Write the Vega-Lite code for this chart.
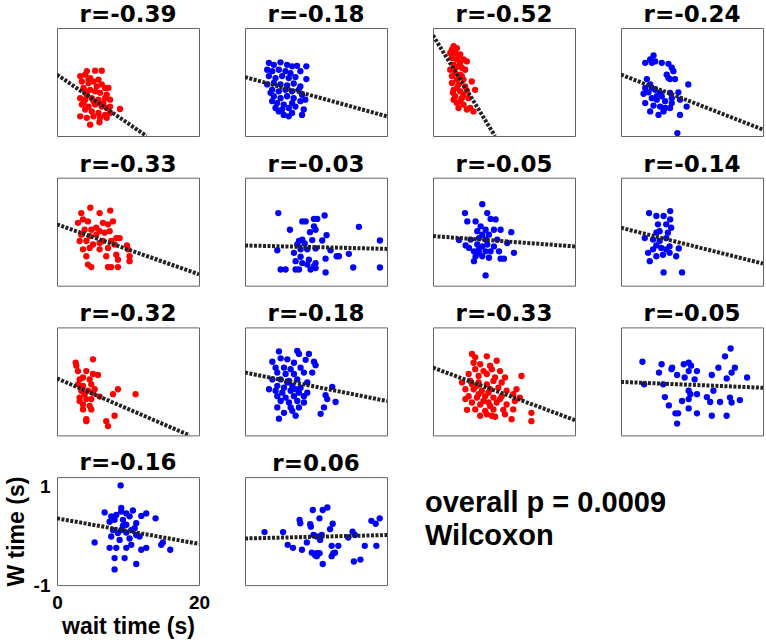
{
"$schema":"https://vega.github.io/schema/vega-lite/v6.json",
"background":"white",
"padding":{"left":4,"top":3,"right":0,"bottom":0},
"datasets":{
"pts":[
{"p":1,"x":4.2,"y":0.32},{"p":1,"x":5.37,"y":0.33},{"p":1,"x":6.3,"y":0.33},{"p":1,"x":3.27,"y":0.22},{"p":1,"x":3.97,"y":0.25},{"p":1,"x":4.67,"y":0.18},{"p":1,"x":3.5,"y":0.11},{"p":1,"x":4.44,"y":0.08},{"p":1,"x":5.14,"y":0.11},{"p":1,"x":5.84,"y":0.15},{"p":1,"x":6.77,"y":-0.02},{"p":1,"x":7.24,"y":-0.02},{"p":1,"x":6.3,"y":0.05},{"p":1,"x":3.74,"y":-0.02},{"p":1,"x":4.67,"y":-0.06},{"p":1,"x":5.37,"y":-0.09},{"p":1,"x":6.07,"y":-0.12},{"p":1,"x":4.2,"y":-0.16},{"p":1,"x":3.27,"y":-0.23},{"p":1,"x":3.97,"y":-0.26},{"p":1,"x":4.9,"y":-0.23},{"p":1,"x":5.84,"y":-0.26},{"p":1,"x":6.77,"y":-0.23},{"p":1,"x":7.47,"y":-0.26},{"p":1,"x":3.5,"y":-0.36},{"p":1,"x":4.44,"y":-0.4},{"p":1,"x":5.37,"y":-0.36},{"p":1,"x":6.3,"y":-0.4},{"p":1,"x":7.0,"y":-0.43},{"p":1,"x":8.87,"y":-0.45},{"p":1,"x":3.97,"y":-0.46},{"p":1,"x":4.9,"y":-0.5},{"p":1,"x":5.84,"y":-0.53},{"p":1,"x":6.77,"y":-0.57},{"p":1,"x":7.47,"y":-0.53},{"p":1,"x":3.27,"y":-0.6},{"p":1,"x":4.2,"y":-0.63},{"p":1,"x":5.14,"y":-0.6},{"p":1,"x":6.07,"y":-0.63},{"p":1,"x":7.0,"y":-0.63},{"p":1,"x":4.67,"y":-0.77},{"p":1,"x":5.98,"y":-0.72},{"p":1,"x":3.74,"y":-0.33},{"p":1,"x":5.14,"y":-0.29},{"p":1,"x":6.54,"y":-0.33},{"p":1,"x":4.44,"y":0.15},{"p":1,"x":5.6,"y":0.01},{"p":1,"x":7.47,"y":-0.4},{"p":1,"x":7.0,"y":-0.16},{"p":1,"x":3.97,"y":-0.09},
{"p":2,"x":3.36,"y":0.49},{"p":2,"x":4.06,"y":0.45},{"p":2,"x":5.0,"y":0.5},{"p":2,"x":5.93,"y":0.45},{"p":2,"x":6.63,"y":0.42},{"p":2,"x":7.33,"y":0.43},{"p":2,"x":8.64,"y":0.42},{"p":2,"x":3.13,"y":0.35},{"p":2,"x":3.83,"y":0.32},{"p":2,"x":4.76,"y":0.35},{"p":2,"x":5.7,"y":0.32},{"p":2,"x":6.4,"y":0.28},{"p":2,"x":7.8,"y":0.32},{"p":2,"x":3.36,"y":0.22},{"p":2,"x":4.3,"y":0.18},{"p":2,"x":5.23,"y":0.22},{"p":2,"x":6.16,"y":0.18},{"p":2,"x":7.1,"y":0.2},{"p":2,"x":8.64,"y":0.16},{"p":2,"x":3.13,"y":0.05},{"p":2,"x":4.06,"y":0.08},{"p":2,"x":5.0,"y":0.05},{"p":2,"x":5.93,"y":0.03},{"p":2,"x":6.86,"y":0.07},{"p":2,"x":7.8,"y":0.01},{"p":2,"x":3.83,"y":-0.06},{"p":2,"x":4.76,"y":-0.09},{"p":2,"x":5.7,"y":-0.06},{"p":2,"x":6.63,"y":-0.09},{"p":2,"x":7.57,"y":-0.06},{"p":2,"x":4.06,"y":-0.19},{"p":2,"x":5.0,"y":-0.23},{"p":2,"x":5.93,"y":-0.19},{"p":2,"x":6.86,"y":-0.23},{"p":2,"x":8.03,"y":-0.16},{"p":2,"x":3.83,"y":-0.29},{"p":2,"x":4.53,"y":-0.33},{"p":2,"x":5.46,"y":-0.36},{"p":2,"x":6.63,"y":-0.33},{"p":2,"x":7.8,"y":-0.29},{"p":2,"x":8.5,"y":-0.26},{"p":2,"x":4.3,"y":-0.43},{"p":2,"x":5.23,"y":-0.46},{"p":2,"x":6.16,"y":-0.43},{"p":2,"x":7.1,"y":-0.4},{"p":2,"x":5.46,"y":-0.57},{"p":2,"x":6.16,"y":-0.6},{"p":2,"x":8.03,"y":-0.57},{"p":2,"x":4.76,"y":-0.5},{"p":2,"x":6.63,"y":-0.53},{"p":2,"x":8.27,"y":-0.46},{"p":2,"x":3.6,"y":-0.12},
{"p":3,"x":2.9,"y":0.83},{"p":3,"x":2.66,"y":0.76},{"p":3,"x":3.36,"y":0.79},{"p":3,"x":3.13,"y":0.69},{"p":3,"x":3.83,"y":0.66},{"p":3,"x":4.3,"y":0.56},{"p":3,"x":4.76,"y":0.52},{"p":3,"x":2.66,"y":0.59},{"p":3,"x":3.36,"y":0.56},{"p":3,"x":2.9,"y":0.45},{"p":3,"x":3.6,"y":0.42},{"p":3,"x":4.06,"y":0.39},{"p":3,"x":4.53,"y":0.35},{"p":3,"x":2.43,"y":0.35},{"p":3,"x":3.13,"y":0.28},{"p":3,"x":3.83,"y":0.25},{"p":3,"x":3.36,"y":0.15},{"p":3,"x":4.3,"y":0.15},{"p":3,"x":5.46,"y":0.11},{"p":3,"x":2.66,"y":0.08},{"p":3,"x":3.6,"y":0.05},{"p":3,"x":4.53,"y":0.01},{"p":3,"x":2.9,"y":-0.06},{"p":3,"x":3.83,"y":-0.09},{"p":3,"x":4.76,"y":-0.07},{"p":3,"x":5.93,"y":-0.06},{"p":3,"x":3.13,"y":-0.19},{"p":3,"x":4.06,"y":-0.23},{"p":3,"x":5.0,"y":-0.23},{"p":3,"x":3.36,"y":-0.33},{"p":3,"x":4.3,"y":-0.36},{"p":3,"x":5.23,"y":-0.43},{"p":3,"x":5.7,"y":-0.5},{"p":3,"x":3.6,"y":-0.43},{"p":3,"x":4.76,"y":-0.46},{"p":3,"x":2.66,"y":0.22},{"p":3,"x":4.06,"y":0.22},{"p":3,"x":3.36,"y":-0.02},{"p":3,"x":4.3,"y":-0.16},{"p":3,"x":2.9,"y":-0.26},{"p":3,"x":2.43,"y":0.69},{"p":3,"x":3.6,"y":0.62},{"p":3,"x":3.13,"y":0.39},{"p":3,"x":3.83,"y":0.49},{"p":3,"x":2.8,"y":-0.12},{"p":3,"x":3.83,"y":-0.29},
{"p":4,"x":4.58,"y":0.64},{"p":4,"x":4.11,"y":0.56},{"p":4,"x":3.41,"y":0.49},{"p":4,"x":4.34,"y":0.49},{"p":4,"x":4.81,"y":0.52},{"p":4,"x":5.74,"y":0.49},{"p":4,"x":6.68,"y":0.47},{"p":4,"x":7.15,"y":0.39},{"p":4,"x":7.38,"y":0.32},{"p":4,"x":6.44,"y":0.25},{"p":4,"x":6.91,"y":0.16},{"p":4,"x":7.61,"y":0.16},{"p":4,"x":6.68,"y":0.18},{"p":4,"x":3.64,"y":0.16},{"p":4,"x":4.11,"y":0.05},{"p":4,"x":3.41,"y":-0.02},{"p":4,"x":4.34,"y":-0.02},{"p":4,"x":4.81,"y":-0.06},{"p":4,"x":3.88,"y":-0.11},{"p":4,"x":5.51,"y":-0.12},{"p":4,"x":6.91,"y":-0.12},{"p":4,"x":8.08,"y":-0.11},{"p":4,"x":9.48,"y":0.05},{"p":4,"x":3.18,"y":-0.14},{"p":4,"x":4.34,"y":-0.23},{"p":4,"x":5.04,"y":-0.26},{"p":4,"x":5.74,"y":-0.19},{"p":4,"x":7.15,"y":-0.23},{"p":4,"x":3.41,"y":-0.33},{"p":4,"x":4.58,"y":-0.38},{"p":4,"x":5.51,"y":-0.4},{"p":4,"x":6.21,"y":-0.43},{"p":4,"x":6.91,"y":-0.43},{"p":4,"x":8.31,"y":-0.26},{"p":4,"x":9.25,"y":-0.4},{"p":4,"x":4.11,"y":-0.5},{"p":4,"x":5.28,"y":-0.57},{"p":4,"x":5.98,"y":-0.5},{"p":4,"x":8.31,"y":-0.57},{"p":4,"x":7.94,"y":-0.94},{"p":4,"x":5.04,"y":-0.19},{"p":4,"x":6.21,"y":-0.29},{"p":4,"x":7.15,"y":-0.33},
{"p":5,"x":4.69,"y":0.59},{"p":5,"x":3.42,"y":0.48},{"p":5,"x":6.0,"y":0.48},{"p":5,"x":7.5,"y":0.53},{"p":5,"x":2.95,"y":0.28},{"p":5,"x":3.66,"y":0.35},{"p":5,"x":4.36,"y":0.31},{"p":5,"x":6.47,"y":0.28},{"p":5,"x":7.18,"y":0.25},{"p":5,"x":7.88,"y":0.31},{"p":5,"x":3.89,"y":0.14},{"p":5,"x":4.83,"y":0.14},{"p":5,"x":6.0,"y":0.11},{"p":5,"x":6.71,"y":0.08},{"p":5,"x":7.41,"y":0.11},{"p":5,"x":3.42,"y":0.04},{"p":5,"x":5.53,"y":0.04},{"p":5,"x":8.35,"y":-0.03},{"p":5,"x":8.82,"y":-0.03},{"p":5,"x":3.19,"y":-0.09},{"p":5,"x":4.13,"y":-0.09},{"p":5,"x":5.07,"y":-0.16},{"p":5,"x":6.47,"y":-0.09},{"p":5,"x":7.64,"y":-0.09},{"p":5,"x":3.66,"y":-0.26},{"p":5,"x":4.6,"y":-0.23},{"p":5,"x":6.0,"y":-0.26},{"p":5,"x":7.18,"y":-0.23},{"p":5,"x":9.85,"y":-0.18},{"p":5,"x":9.99,"y":-0.26},{"p":5,"x":4.13,"y":-0.4},{"p":5,"x":6.94,"y":-0.4},{"p":5,"x":8.35,"y":-0.37},{"p":5,"x":10.22,"y":-0.4},{"p":5,"x":8.58,"y":-0.47},{"p":5,"x":10.22,"y":-0.5},{"p":5,"x":4.36,"y":-0.57},{"p":5,"x":4.83,"y":-0.62},{"p":5,"x":7.18,"y":-0.62},{"p":5,"x":7.64,"y":-0.62},{"p":5,"x":8.58,"y":-0.62},{"p":5,"x":6.0,"y":-0.13},{"p":5,"x":5.53,"y":0.18},{"p":5,"x":4.6,"y":0.01},{"p":5,"x":8.11,"y":-0.16},
{"p":6,"x":4.69,"y":0.48},{"p":6,"x":6.33,"y":0.14},{"p":6,"x":8.07,"y":0.31},{"p":6,"x":8.54,"y":0.31},{"p":6,"x":9.71,"y":0.36},{"p":6,"x":10.18,"y":0.36},{"p":6,"x":11.21,"y":0.43},{"p":6,"x":9.71,"y":0.21},{"p":6,"x":9.15,"y":0.09},{"p":6,"x":9.94,"y":0.14},{"p":6,"x":11.49,"y":0.03},{"p":6,"x":16.04,"y":0.2},{"p":6,"x":19.0,"y":-0.08},{"p":6,"x":7.6,"y":-0.09},{"p":6,"x":8.07,"y":-0.06},{"p":6,"x":7.36,"y":-0.16},{"p":6,"x":8.4,"y":-0.14},{"p":6,"x":9.47,"y":-0.07},{"p":6,"x":10.88,"y":-0.08},{"p":6,"x":4.55,"y":-0.28},{"p":6,"x":6.89,"y":-0.33},{"p":6,"x":7.83,"y":-0.26},{"p":6,"x":8.77,"y":-0.26},{"p":6,"x":9.94,"y":-0.24},{"p":6,"x":12.05,"y":-0.28},{"p":6,"x":12.9,"y":-0.4},{"p":6,"x":13.23,"y":-0.4},{"p":6,"x":14.63,"y":-0.35},{"p":6,"x":7.83,"y":-0.41},{"p":6,"x":9.0,"y":-0.47},{"p":6,"x":7.13,"y":-0.5},{"p":6,"x":8.07,"y":-0.54},{"p":6,"x":8.77,"y":-0.57},{"p":6,"x":9.94,"y":-0.54},{"p":6,"x":11.35,"y":-0.45},{"p":6,"x":5.02,"y":-0.67},{"p":6,"x":5.72,"y":-0.67},{"p":6,"x":7.13,"y":-0.67},{"p":6,"x":7.6,"y":-0.67},{"p":6,"x":9.24,"y":-0.67},{"p":6,"x":9.94,"y":-0.64},{"p":6,"x":11.35,"y":-0.73},{"p":6,"x":15.24,"y":-0.63},{"p":6,"x":19.0,"y":-0.63},{"p":6,"x":9.71,"y":-0.6},
{"p":7,"x":6.94,"y":0.66},{"p":7,"x":4.5,"y":0.48},{"p":7,"x":7.64,"y":0.48},{"p":7,"x":4.83,"y":0.31},{"p":7,"x":6.0,"y":0.31},{"p":7,"x":8.11,"y":0.36},{"p":7,"x":8.82,"y":0.35},{"p":7,"x":6.71,"y":0.21},{"p":7,"x":7.41,"y":0.14},{"p":7,"x":6.24,"y":0.11},{"p":7,"x":8.58,"y":0.14},{"p":7,"x":9.52,"y":0.14},{"p":7,"x":11.02,"y":0.09},{"p":7,"x":6.94,"y":0.04},{"p":7,"x":7.88,"y":0.04},{"p":7,"x":3.66,"y":-0.07},{"p":7,"x":5.3,"y":-0.06},{"p":7,"x":6.47,"y":-0.03},{"p":7,"x":7.41,"y":-0.06},{"p":7,"x":9.05,"y":-0.06},{"p":7,"x":10.46,"y":-0.13},{"p":7,"x":4.6,"y":-0.18},{"p":7,"x":5.07,"y":-0.23},{"p":7,"x":6.24,"y":-0.16},{"p":7,"x":6.94,"y":-0.2},{"p":7,"x":7.64,"y":-0.16},{"p":7,"x":8.58,"y":-0.2},{"p":7,"x":5.77,"y":-0.3},{"p":7,"x":6.47,"y":-0.26},{"p":7,"x":7.41,"y":-0.3},{"p":7,"x":9.29,"y":-0.3},{"p":7,"x":11.4,"y":-0.33},{"p":7,"x":6.0,"y":-0.4},{"p":7,"x":6.94,"y":-0.4},{"p":7,"x":7.88,"y":-0.43},{"p":7,"x":9.52,"y":-0.45},{"p":7,"x":9.99,"y":-0.45},{"p":7,"x":5.77,"y":-0.5},{"p":7,"x":7.41,"y":-0.79},{"p":7,"x":6.47,"y":-0.33},{"p":7,"x":8.11,"y":-0.3},
{"p":8,"x":3.95,"y":0.48},{"p":8,"x":4.98,"y":0.42},{"p":8,"x":6.0,"y":0.42},{"p":8,"x":6.93,"y":0.52},{"p":8,"x":5.21,"y":0.25},{"p":8,"x":6.37,"y":0.25},{"p":8,"x":6.93,"y":0.35},{"p":8,"x":4.98,"y":0.08},{"p":8,"x":5.44,"y":0.11},{"p":8,"x":6.6,"y":0.08},{"p":8,"x":7.07,"y":0.18},{"p":8,"x":3.35,"y":-0.03},{"p":8,"x":4.51,"y":-0.06},{"p":8,"x":5.44,"y":-0.09},{"p":8,"x":6.37,"y":-0.03},{"p":8,"x":4.98,"y":-0.18},{"p":8,"x":5.67,"y":-0.23},{"p":8,"x":6.84,"y":-0.2},{"p":8,"x":8.14,"y":-0.24},{"p":8,"x":3.81,"y":-0.33},{"p":8,"x":4.98,"y":-0.4},{"p":8,"x":5.91,"y":-0.37},{"p":8,"x":6.84,"y":-0.33},{"p":8,"x":7.77,"y":-0.4},{"p":8,"x":4.05,"y":-0.5},{"p":8,"x":6.0,"y":-0.73},{"p":8,"x":8.6,"y":-0.73},{"p":8,"x":4.51,"y":-0.26},{"p":8,"x":6.37,"y":-0.26},
{"p":9,"x":2.63,"y":0.48},{"p":9,"x":2.72,"y":0.42},{"p":9,"x":5.07,"y":0.55},{"p":9,"x":2.95,"y":0.31},{"p":9,"x":4.13,"y":0.31},{"p":9,"x":5.07,"y":0.25},{"p":9,"x":5.77,"y":0.23},{"p":9,"x":3.19,"y":0.14},{"p":9,"x":3.66,"y":0.18},{"p":9,"x":4.6,"y":0.14},{"p":9,"x":2.95,"y":0.04},{"p":9,"x":3.66,"y":0.01},{"p":9,"x":4.83,"y":0.04},{"p":9,"x":3.42,"y":-0.09},{"p":9,"x":4.36,"y":-0.09},{"p":9,"x":5.07,"y":-0.13},{"p":9,"x":6.0,"y":-0.21},{"p":9,"x":7.88,"y":-0.16},{"p":9,"x":8.58,"y":-0.06},{"p":9,"x":11.07,"y":-0.16},{"p":9,"x":3.19,"y":-0.23},{"p":9,"x":4.13,"y":-0.26},{"p":9,"x":4.83,"y":-0.26},{"p":9,"x":3.66,"y":-0.37},{"p":9,"x":4.6,"y":-0.4},{"p":9,"x":3.66,"y":-0.47},{"p":9,"x":4.83,"y":-0.47},{"p":9,"x":8.11,"y":-0.6},{"p":9,"x":4.13,"y":-0.67},{"p":9,"x":4.13,"y":-0.71},{"p":9,"x":6.94,"y":-0.71},{"p":9,"x":7.18,"y":-0.81},{"p":9,"x":3.19,"y":-0.3},{"p":9,"x":5.3,"y":-0.06},{"p":9,"x":3.89,"y":-0.16},
{"p":10,"x":4.78,"y":0.71},{"p":10,"x":7.36,"y":0.72},{"p":10,"x":7.6,"y":0.66},{"p":10,"x":9.0,"y":0.66},{"p":10,"x":3.85,"y":0.5},{"p":10,"x":5.02,"y":0.57},{"p":10,"x":5.96,"y":0.55},{"p":10,"x":6.89,"y":0.48},{"p":10,"x":8.54,"y":0.54},{"p":10,"x":9.71,"y":0.5},{"p":10,"x":9.94,"y":0.43},{"p":10,"x":4.31,"y":0.38},{"p":10,"x":5.49,"y":0.38},{"p":10,"x":6.43,"y":0.35},{"p":10,"x":7.83,"y":0.38},{"p":10,"x":4.55,"y":0.28},{"p":10,"x":5.72,"y":0.25},{"p":10,"x":6.89,"y":0.25},{"p":10,"x":8.3,"y":0.28},{"p":10,"x":9.47,"y":0.28},{"p":10,"x":3.85,"y":0.14},{"p":10,"x":5.02,"y":0.14},{"p":10,"x":6.19,"y":0.11},{"p":10,"x":7.36,"y":0.14},{"p":10,"x":8.77,"y":0.08},{"p":10,"x":4.55,"y":0.01},{"p":10,"x":5.49,"y":-0.03},{"p":10,"x":6.66,"y":0.01},{"p":10,"x":7.83,"y":-0.03},{"p":10,"x":3.38,"y":-0.06},{"p":10,"x":4.31,"y":-0.09},{"p":10,"x":6.43,"y":-0.09},{"p":10,"x":7.6,"y":-0.13},{"p":10,"x":8.77,"y":-0.13},{"p":10,"x":12.29,"y":-0.01},{"p":10,"x":4.55,"y":-0.2},{"p":10,"x":5.72,"y":-0.23},{"p":10,"x":6.89,"y":-0.2},{"p":10,"x":8.3,"y":-0.2},{"p":10,"x":11.35,"y":-0.18},{"p":10,"x":5.02,"y":-0.3},{"p":10,"x":6.19,"y":-0.33},{"p":10,"x":7.36,"y":-0.3},{"p":10,"x":11.58,"y":-0.26},{"p":10,"x":12.76,"y":-0.32},{"p":10,"x":4.55,"y":-0.43},{"p":10,"x":6.43,"y":-0.43},{"p":10,"x":7.6,"y":-0.43},{"p":10,"x":11.12,"y":-0.43},{"p":10,"x":5.49,"y":-0.54},{"p":10,"x":7.13,"y":-0.6},{"p":10,"x":10.65,"y":-0.56},{"p":10,"x":4.78,"y":-0.66},{"p":10,"x":5.96,"y":0.08},{"p":10,"x":7.13,"y":-0.06},{"p":10,"x":8.3,"y":-0.33},{"p":10,"x":5.25,"y":-0.13},{"p":10,"x":6.66,"y":-0.5},
{"p":11,"x":5.49,"y":0.66},{"p":11,"x":5.95,"y":0.59},{"p":11,"x":7.58,"y":0.61},{"p":11,"x":5.72,"y":0.48},{"p":11,"x":6.65,"y":0.45},{"p":11,"x":8.97,"y":0.52},{"p":11,"x":8.04,"y":0.42},{"p":11,"x":5.95,"y":0.35},{"p":11,"x":7.11,"y":0.31},{"p":11,"x":8.28,"y":0.35},{"p":11,"x":9.44,"y":0.31},{"p":11,"x":5.02,"y":0.25},{"p":11,"x":6.42,"y":0.21},{"p":11,"x":7.58,"y":0.25},{"p":11,"x":8.74,"y":0.18},{"p":11,"x":10.14,"y":0.18},{"p":11,"x":12.46,"y":0.21},{"p":11,"x":4.09,"y":0.08},{"p":11,"x":5.25,"y":0.11},{"p":11,"x":6.42,"y":0.08},{"p":11,"x":7.58,"y":0.04},{"p":11,"x":8.51,"y":0.11},{"p":11,"x":9.67,"y":0.08},{"p":11,"x":4.56,"y":-0.06},{"p":11,"x":5.72,"y":-0.06},{"p":11,"x":6.88,"y":-0.09},{"p":11,"x":8.04,"y":-0.06},{"p":11,"x":9.21,"y":-0.03},{"p":11,"x":10.37,"y":-0.09},{"p":11,"x":11.76,"y":-0.06},{"p":11,"x":5.02,"y":-0.2},{"p":11,"x":6.18,"y":-0.23},{"p":11,"x":7.35,"y":-0.2},{"p":11,"x":8.51,"y":-0.23},{"p":11,"x":9.67,"y":-0.2},{"p":11,"x":11.3,"y":-0.16},{"p":11,"x":12.23,"y":-0.23},{"p":11,"x":5.49,"y":-0.33},{"p":11,"x":6.65,"y":-0.37},{"p":11,"x":7.81,"y":-0.33},{"p":11,"x":8.97,"y":-0.33},{"p":11,"x":10.37,"y":-0.37},{"p":11,"x":11.53,"y":-0.3},{"p":11,"x":4.79,"y":-0.48},{"p":11,"x":5.95,"y":-0.47},{"p":11,"x":7.35,"y":-0.5},{"p":11,"x":8.51,"y":-0.47},{"p":11,"x":9.9,"y":-0.48},{"p":11,"x":11.3,"y":-0.47},{"p":11,"x":8.28,"y":-0.6},{"p":11,"x":8.74,"y":-0.62},{"p":11,"x":10.14,"y":-0.57},{"p":11,"x":11.07,"y":-0.67},{"p":11,"x":13.86,"y":-0.54},{"p":11,"x":13.86,"y":-0.71},{"p":11,"x":6.65,"y":-0.6},{"p":11,"x":7.58,"y":-0.57},{"p":11,"x":5.49,"y":0.04},{"p":11,"x":4.56,"y":-0.26},{"p":11,"x":6.18,"y":0.01},{"p":11,"x":7.11,"y":-0.3},{"p":11,"x":8.04,"y":-0.4},{"p":11,"x":9.44,"y":-0.26},{"p":11,"x":6.42,"y":-0.16},{"p":11,"x":7.81,"y":-0.13},
{"p":12,"x":3.02,"y":0.5},{"p":12,"x":5.72,"y":0.45},{"p":12,"x":7.11,"y":0.35},{"p":12,"x":7.2,"y":0.38},{"p":12,"x":8.84,"y":0.45},{"p":12,"x":9.53,"y":0.48},{"p":12,"x":9.86,"y":0.42},{"p":12,"x":5.35,"y":0.28},{"p":12,"x":7.9,"y":0.23},{"p":12,"x":9.53,"y":0.31},{"p":12,"x":10.7,"y":0.31},{"p":12,"x":8.97,"y":0.18},{"p":12,"x":10.37,"y":0.14},{"p":12,"x":12.79,"y":0.23},{"p":12,"x":13.72,"y":0.38},{"p":12,"x":14.65,"y":0.61},{"p":12,"x":15.44,"y":0.77},{"p":12,"x":16.04,"y":0.38},{"p":12,"x":15.58,"y":0.28},{"p":12,"x":14.88,"y":0.16},{"p":12,"x":17.76,"y":0.18},{"p":12,"x":3.26,"y":0.04},{"p":12,"x":5.95,"y":0.04},{"p":12,"x":9.53,"y":-0.09},{"p":12,"x":9.77,"y":-0.16},{"p":12,"x":10.7,"y":-0.16},{"p":12,"x":13.02,"y":-0.09},{"p":12,"x":6.18,"y":-0.22},{"p":12,"x":8.6,"y":-0.3},{"p":12,"x":9.53,"y":-0.26},{"p":12,"x":12.09,"y":-0.22},{"p":12,"x":12.56,"y":-0.32},{"p":12,"x":13.95,"y":-0.32},{"p":12,"x":15.35,"y":-0.23},{"p":12,"x":15.58,"y":-0.33},{"p":12,"x":16.74,"y":-0.28},{"p":12,"x":6.74,"y":-0.39},{"p":12,"x":7.67,"y":-0.55},{"p":12,"x":8.04,"y":-0.55},{"p":12,"x":9.53,"y":-0.45},{"p":12,"x":10.7,"y":-0.55},{"p":12,"x":12.79,"y":-0.6},{"p":12,"x":14.88,"y":-0.6},{"p":12,"x":7.9,"y":-0.76},
{"p":13,"x":8.96,"y":1.03},{"p":13,"x":9.05,"y":0.57},{"p":13,"x":6.71,"y":0.48},{"p":13,"x":7.64,"y":0.4},{"p":13,"x":8.35,"y":0.43},{"p":13,"x":9.05,"y":0.5},{"p":13,"x":9.76,"y":0.46},{"p":13,"x":10.69,"y":0.52},{"p":13,"x":11.87,"y":0.41},{"p":13,"x":12.57,"y":0.46},{"p":13,"x":13.88,"y":0.36},{"p":13,"x":7.41,"y":0.29},{"p":13,"x":8.11,"y":0.33},{"p":13,"x":9.29,"y":0.33},{"p":13,"x":10.22,"y":0.4},{"p":13,"x":9.29,"y":0.21},{"p":13,"x":9.76,"y":0.23},{"p":13,"x":11.16,"y":0.26},{"p":13,"x":7.88,"y":0.12},{"p":13,"x":8.58,"y":0.06},{"p":13,"x":9.76,"y":0.07},{"p":13,"x":10.46,"y":0.12},{"p":13,"x":10.93,"y":0.16},{"p":13,"x":11.16,"y":0.02},{"p":13,"x":10.22,"y":-0.05},{"p":13,"x":11.63,"y":-0.01},{"p":13,"x":8.82,"y":-0.08},{"p":13,"x":5.3,"y":-0.13},{"p":13,"x":7.41,"y":-0.24},{"p":13,"x":8.35,"y":-0.24},{"p":13,"x":9.76,"y":-0.24},{"p":13,"x":10.46,"y":-0.18},{"p":13,"x":11.87,"y":-0.28},{"p":13,"x":12.57,"y":-0.24},{"p":13,"x":14.68,"y":-0.18},{"p":13,"x":14.91,"y":-0.13},{"p":13,"x":15.95,"y":-0.28},{"p":13,"x":8.11,"y":-0.45},{"p":13,"x":9.52,"y":-0.45},{"p":13,"x":11.16,"y":-0.57},{"p":13,"x":8.11,"y":-0.68},{"p":13,"x":7.64,"y":-0.01},{"p":13,"x":9.05,"y":0.12},
{"p":14,"x":2.75,"y":0.08},{"p":14,"x":5.36,"y":0.08},{"p":14,"x":7.69,"y":0.33},{"p":14,"x":7.78,"y":0.26},{"p":14,"x":9.18,"y":0.24},{"p":14,"x":9.27,"y":0.19},{"p":14,"x":9.55,"y":0.53},{"p":14,"x":10.49,"y":0.36},{"p":14,"x":10.95,"y":0.53},{"p":14,"x":11.6,"y":0.58},{"p":14,"x":12.35,"y":0.25},{"p":14,"x":11.98,"y":0.14},{"p":14,"x":10.81,"y":0.02},{"p":14,"x":9.65,"y":0.02},{"p":14,"x":10.11,"y":-0.01},{"p":14,"x":8.71,"y":-0.13},{"p":14,"x":10.58,"y":-0.08},{"p":14,"x":6.01,"y":-0.18},{"p":14,"x":6.76,"y":-0.24},{"p":14,"x":8.02,"y":-0.28},{"p":14,"x":9.41,"y":-0.34},{"p":14,"x":9.88,"y":-0.39},{"p":14,"x":10.11,"y":-0.35},{"p":14,"x":10.49,"y":-0.35},{"p":14,"x":10.11,"y":-0.41},{"p":14,"x":10.95,"y":-0.57},{"p":14,"x":12.21,"y":-0.41},{"p":14,"x":12.44,"y":-0.35},{"p":14,"x":12.68,"y":-0.34},{"p":14,"x":12.21,"y":-0.2},{"p":14,"x":13.14,"y":-0.2},{"p":14,"x":14.54,"y":-0.03},{"p":14,"x":15.15,"y":0.09},{"p":14,"x":15.47,"y":0.02},{"p":14,"x":15.33,"y":-0.52},{"p":14,"x":16.26,"y":-0.48},{"p":14,"x":16.87,"y":-0.2},{"p":14,"x":18.5,"y":-0.2},{"p":14,"x":17.8,"y":0.31},{"p":14,"x":18.41,"y":0.25},{"p":14,"x":18.97,"y":0.36}
],
"lines":[
{"p":1,"x":0,"y":0.25},{"p":1,"x":12.6,"y":-1.0},
{"p":2,"x":0,"y":0.2},{"p":2,"x":20,"y":-0.6},
{"p":3,"x":0,"y":1.05},{"p":3,"x":8.73,"y":-1.0},
{"p":4,"x":0,"y":0.25},{"p":4,"x":20,"y":-0.87},
{"p":5,"x":0,"y":0.25},{"p":5,"x":20,"y":-0.77},
{"p":6,"x":0,"y":-0.18},{"p":6,"x":20,"y":-0.25},
{"p":7,"x":0,"y":0.01},{"p":7,"x":20,"y":-0.2},
{"p":8,"x":0,"y":0.18},{"p":8,"x":20,"y":-0.55},
{"p":9,"x":0,"y":0.16},{"p":9,"x":18.67,"y":-1.0},
{"p":10,"x":0,"y":0.28},{"p":10,"x":20,"y":-0.3},
{"p":11,"x":0,"y":0.38},{"p":11,"x":20,"y":-0.69},
{"p":12,"x":0,"y":0.09},{"p":12,"x":20,"y":-0.03},
{"p":13,"x":0,"y":0.36},{"p":13,"x":20,"y":-0.16},
{"p":14,"x":0,"y":-0.05},{"p":14,"x":20,"y":0.02}
]
},
"columns":4,
"spacing":{"row":41.7,"column":46},
"bounds":"flush",
"concat":[
{"title":"r=-0.39","width":142,"height":108,"layer":[{"data":{"name":"pts"},"transform":[{"filter":"datum.p==1"}],"mark":{"type":"circle","color":"#ff0000","size":40,"opacity":1},"encoding":{"x":{"field":"x","type":"quantitative","scale":{"domain":[0,20],"nice":false,"zero":false},"axis":null},"y":{"field":"y","type":"quantitative","scale":{"domain":[-1,1.2],"nice":false,"zero":false},"axis":null}}},{"data":{"name":"lines"},"transform":[{"filter":"datum.p==1"}],"mark":{"type":"line","color":"#222222","strokeWidth":4,"strokeDash":[3,1.5],"clip":true},"encoding":{"x":{"field":"x","type":"quantitative","axis":null},"y":{"field":"y","type":"quantitative","axis":null}}}]},
{"title":"r=-0.18","width":142,"height":108,"layer":[{"data":{"name":"pts"},"transform":[{"filter":"datum.p==2"}],"mark":{"type":"circle","color":"#0000ff","size":40,"opacity":1},"encoding":{"x":{"field":"x","type":"quantitative","scale":{"domain":[0,20],"nice":false,"zero":false},"axis":null},"y":{"field":"y","type":"quantitative","scale":{"domain":[-1,1.2],"nice":false,"zero":false},"axis":null}}},{"data":{"name":"lines"},"transform":[{"filter":"datum.p==2"}],"mark":{"type":"line","color":"#222222","strokeWidth":4,"strokeDash":[3,1.5],"clip":true},"encoding":{"x":{"field":"x","type":"quantitative","axis":null},"y":{"field":"y","type":"quantitative","axis":null}}}]},
{"title":"r=-0.52","width":142,"height":108,"layer":[{"data":{"name":"pts"},"transform":[{"filter":"datum.p==3"}],"mark":{"type":"circle","color":"#ff0000","size":40,"opacity":1},"encoding":{"x":{"field":"x","type":"quantitative","scale":{"domain":[0,20],"nice":false,"zero":false},"axis":null},"y":{"field":"y","type":"quantitative","scale":{"domain":[-1,1.2],"nice":false,"zero":false},"axis":null}}},{"data":{"name":"lines"},"transform":[{"filter":"datum.p==3"}],"mark":{"type":"line","color":"#222222","strokeWidth":4,"strokeDash":[3,1.5],"clip":true},"encoding":{"x":{"field":"x","type":"quantitative","axis":null},"y":{"field":"y","type":"quantitative","axis":null}}}]},
{"title":"r=-0.24","width":142,"height":108,"layer":[{"data":{"name":"pts"},"transform":[{"filter":"datum.p==4"}],"mark":{"type":"circle","color":"#0000ff","size":40,"opacity":1},"encoding":{"x":{"field":"x","type":"quantitative","scale":{"domain":[0,20],"nice":false,"zero":false},"axis":null},"y":{"field":"y","type":"quantitative","scale":{"domain":[-1,1.2],"nice":false,"zero":false},"axis":null}}},{"data":{"name":"lines"},"transform":[{"filter":"datum.p==4"}],"mark":{"type":"line","color":"#222222","strokeWidth":4,"strokeDash":[3,1.5],"clip":true},"encoding":{"x":{"field":"x","type":"quantitative","axis":null},"y":{"field":"y","type":"quantitative","axis":null}}}]},
{"title":"r=-0.33","width":142,"height":108,"layer":[{"data":{"name":"pts"},"transform":[{"filter":"datum.p==5"}],"mark":{"type":"circle","color":"#ff0000","size":40,"opacity":1},"encoding":{"x":{"field":"x","type":"quantitative","scale":{"domain":[0,20],"nice":false,"zero":false},"axis":null},"y":{"field":"y","type":"quantitative","scale":{"domain":[-1,1.2],"nice":false,"zero":false},"axis":null}}},{"data":{"name":"lines"},"transform":[{"filter":"datum.p==5"}],"mark":{"type":"line","color":"#222222","strokeWidth":4,"strokeDash":[3,1.5],"clip":true},"encoding":{"x":{"field":"x","type":"quantitative","axis":null},"y":{"field":"y","type":"quantitative","axis":null}}}]},
{"title":"r=-0.03","width":142,"height":108,"layer":[{"data":{"name":"pts"},"transform":[{"filter":"datum.p==6"}],"mark":{"type":"circle","color":"#0000ff","size":40,"opacity":1},"encoding":{"x":{"field":"x","type":"quantitative","scale":{"domain":[0,20],"nice":false,"zero":false},"axis":null},"y":{"field":"y","type":"quantitative","scale":{"domain":[-1,1.2],"nice":false,"zero":false},"axis":null}}},{"data":{"name":"lines"},"transform":[{"filter":"datum.p==6"}],"mark":{"type":"line","color":"#222222","strokeWidth":4,"strokeDash":[3,1.5],"clip":true},"encoding":{"x":{"field":"x","type":"quantitative","axis":null},"y":{"field":"y","type":"quantitative","axis":null}}}]},
{"title":"r=-0.05","width":142,"height":108,"layer":[{"data":{"name":"pts"},"transform":[{"filter":"datum.p==7"}],"mark":{"type":"circle","color":"#0000ff","size":40,"opacity":1},"encoding":{"x":{"field":"x","type":"quantitative","scale":{"domain":[0,20],"nice":false,"zero":false},"axis":null},"y":{"field":"y","type":"quantitative","scale":{"domain":[-1,1.2],"nice":false,"zero":false},"axis":null}}},{"data":{"name":"lines"},"transform":[{"filter":"datum.p==7"}],"mark":{"type":"line","color":"#222222","strokeWidth":4,"strokeDash":[3,1.5],"clip":true},"encoding":{"x":{"field":"x","type":"quantitative","axis":null},"y":{"field":"y","type":"quantitative","axis":null}}}]},
{"title":"r=-0.14","width":142,"height":108,"layer":[{"data":{"name":"pts"},"transform":[{"filter":"datum.p==8"}],"mark":{"type":"circle","color":"#0000ff","size":40,"opacity":1},"encoding":{"x":{"field":"x","type":"quantitative","scale":{"domain":[0,20],"nice":false,"zero":false},"axis":null},"y":{"field":"y","type":"quantitative","scale":{"domain":[-1,1.2],"nice":false,"zero":false},"axis":null}}},{"data":{"name":"lines"},"transform":[{"filter":"datum.p==8"}],"mark":{"type":"line","color":"#222222","strokeWidth":4,"strokeDash":[3,1.5],"clip":true},"encoding":{"x":{"field":"x","type":"quantitative","axis":null},"y":{"field":"y","type":"quantitative","axis":null}}}]},
{"title":"r=-0.32","width":142,"height":108,"layer":[{"data":{"name":"pts"},"transform":[{"filter":"datum.p==9"}],"mark":{"type":"circle","color":"#ff0000","size":40,"opacity":1},"encoding":{"x":{"field":"x","type":"quantitative","scale":{"domain":[0,20],"nice":false,"zero":false},"axis":null},"y":{"field":"y","type":"quantitative","scale":{"domain":[-1,1.2],"nice":false,"zero":false},"axis":null}}},{"data":{"name":"lines"},"transform":[{"filter":"datum.p==9"}],"mark":{"type":"line","color":"#222222","strokeWidth":4,"strokeDash":[3,1.5],"clip":true},"encoding":{"x":{"field":"x","type":"quantitative","axis":null},"y":{"field":"y","type":"quantitative","axis":null}}}]},
{"title":"r=-0.18","width":142,"height":108,"layer":[{"data":{"name":"pts"},"transform":[{"filter":"datum.p==10"}],"mark":{"type":"circle","color":"#0000ff","size":40,"opacity":1},"encoding":{"x":{"field":"x","type":"quantitative","scale":{"domain":[0,20],"nice":false,"zero":false},"axis":null},"y":{"field":"y","type":"quantitative","scale":{"domain":[-1,1.2],"nice":false,"zero":false},"axis":null}}},{"data":{"name":"lines"},"transform":[{"filter":"datum.p==10"}],"mark":{"type":"line","color":"#222222","strokeWidth":4,"strokeDash":[3,1.5],"clip":true},"encoding":{"x":{"field":"x","type":"quantitative","axis":null},"y":{"field":"y","type":"quantitative","axis":null}}}]},
{"title":"r=-0.33","width":142,"height":108,"layer":[{"data":{"name":"pts"},"transform":[{"filter":"datum.p==11"}],"mark":{"type":"circle","color":"#ff0000","size":40,"opacity":1},"encoding":{"x":{"field":"x","type":"quantitative","scale":{"domain":[0,20],"nice":false,"zero":false},"axis":null},"y":{"field":"y","type":"quantitative","scale":{"domain":[-1,1.2],"nice":false,"zero":false},"axis":null}}},{"data":{"name":"lines"},"transform":[{"filter":"datum.p==11"}],"mark":{"type":"line","color":"#222222","strokeWidth":4,"strokeDash":[3,1.5],"clip":true},"encoding":{"x":{"field":"x","type":"quantitative","axis":null},"y":{"field":"y","type":"quantitative","axis":null}}}]},
{"title":"r=-0.05","width":142,"height":108,"layer":[{"data":{"name":"pts"},"transform":[{"filter":"datum.p==12"}],"mark":{"type":"circle","color":"#0000ff","size":40,"opacity":1},"encoding":{"x":{"field":"x","type":"quantitative","scale":{"domain":[0,20],"nice":false,"zero":false},"axis":null},"y":{"field":"y","type":"quantitative","scale":{"domain":[-1,1.2],"nice":false,"zero":false},"axis":null}}},{"data":{"name":"lines"},"transform":[{"filter":"datum.p==12"}],"mark":{"type":"line","color":"#222222","strokeWidth":4,"strokeDash":[3,1.5],"clip":true},"encoding":{"x":{"field":"x","type":"quantitative","axis":null},"y":{"field":"y","type":"quantitative","axis":null}}}]},
{"title":"r=-0.16","width":142,"height":108,"layer":[{"data":{"name":"pts"},"transform":[{"filter":"datum.p==13"}],"mark":{"type":"circle","color":"#0000ff","size":40,"opacity":1},"encoding":{"x":{"field":"x","type":"quantitative","scale":{"domain":[0,20],"nice":false,"zero":false},"axis":{"values":[0,20],"title":"wait time (s)","labelFlush":false,"labelPadding":8,"titlePadding":3}},"y":{"field":"y","type":"quantitative","scale":{"domain":[-1,1.2],"nice":false,"zero":false},"axis":{"values":[-1,1],"title":"W time (s)","labelFlush":false,"labelPadding":7,"titlePadding":5,"labelExpr":"'' + datum.value"}}}},{"data":{"name":"lines"},"transform":[{"filter":"datum.p==13"}],"mark":{"type":"line","color":"#222222","strokeWidth":4,"strokeDash":[3,1.5],"clip":true},"encoding":{"x":{"field":"x","type":"quantitative"},"y":{"field":"y","type":"quantitative"}}}]},
{"title":"r=0.06","width":142,"height":108,"layer":[{"data":{"name":"pts"},"transform":[{"filter":"datum.p==14"}],"mark":{"type":"circle","color":"#0000ff","size":40,"opacity":1},"encoding":{"x":{"field":"x","type":"quantitative","scale":{"domain":[0,20],"nice":false,"zero":false},"axis":null},"y":{"field":"y","type":"quantitative","scale":{"domain":[-1,1.2],"nice":false,"zero":false},"axis":null}}},{"data":{"name":"lines"},"transform":[{"filter":"datum.p==14"}],"mark":{"type":"line","color":"#222222","strokeWidth":4,"strokeDash":[3,1.5],"clip":true},"encoding":{"x":{"field":"x","type":"quantitative","axis":null},"y":{"field":"y","type":"quantitative","axis":null}}}]},
{"width":142,"height":108,"view":{"stroke":null},"data":{"values":[{"line":1,"col":0,"label":"overall p = 0.0009"},{"line":2,"col":0,"label":"Wilcoxon"}]},"mark":{"type":"text","align":"left","baseline":"alphabetic","font":"Liberation Sans","fontWeight":"bold","fontSize":29,"color":"#000000","dx":-8},"encoding":{"x":{"field":"col","type":"quantitative","scale":{"domain":[0,1],"nice":false,"zero":false},"axis":null},"y":{"field":"line","type":"quantitative","scale":{"domain":[-0.06,3.21],"reverse":true,"nice":false,"zero":false},"axis":null},"text":{"field":"label"}}}
],
"config":{
"view":{"stroke":"#666666","strokeWidth":1},
"title":{"font":"DejaVu Sans","fontSize":23,"fontWeight":"bold","color":"#000000","offset":1,"baseline":"alphabetic","anchor":"middle"},
"axis":{"grid":false,"ticks":false,"domain":false,"labelFont":"Liberation Sans","labelFontSize":19,"labelFontWeight":"bold","labelColor":"#000000","titleFont":"Liberation Sans","titleFontSize":23,"titleFontWeight":"bold","titleColor":"#000000"}
}
}
